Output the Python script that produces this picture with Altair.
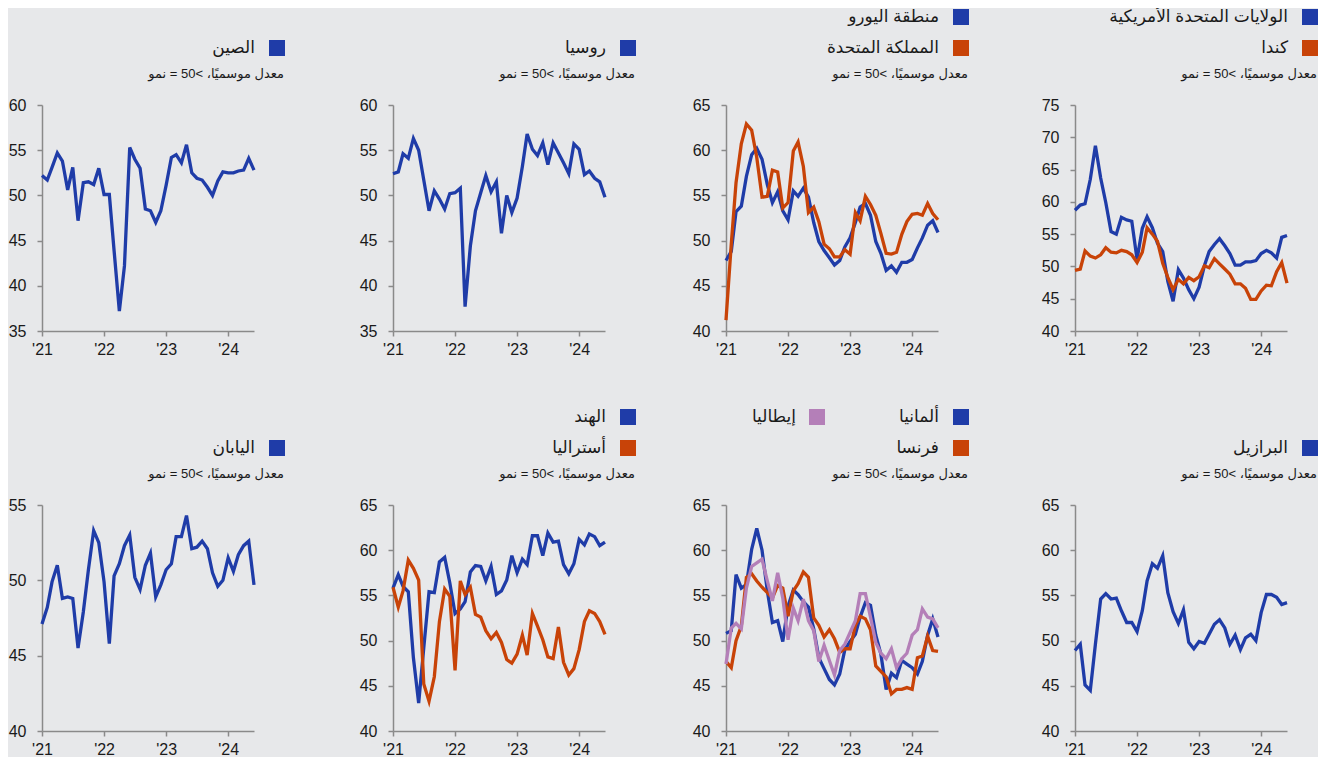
import altair as alt
import pandas as pd

# ---------------- data (monthly composite PMI, Jan 2021 - Jun 2024) ----------------
dates = pd.date_range("2021-01-01", "2024-06-01", freq="MS")

china = [52.2, 51.7, 53.1, 54.7, 53.8, 50.6, 53.1, 47.2, 51.4, 51.5, 51.2, 53.0,
         50.1, 50.1, 43.9, 37.2, 42.2, 55.3, 54.0, 53.0, 48.5, 48.3, 47.0, 48.3,
         51.1, 54.2, 54.5, 53.6, 55.6, 52.5, 51.9, 51.7, 50.9, 50.0, 51.6, 52.6,
         52.5, 52.5, 52.7, 52.8, 54.1, 52.8]
russia = [52.4, 52.6, 54.6, 54.1, 56.3, 55.0, 51.7, 48.3, 50.5, 49.6, 48.5, 50.2,
          50.3, 50.8, 37.7, 44.4, 48.3, 50.3, 52.2, 50.4, 51.5, 45.8, 50.0, 48.1,
          49.7, 53.2, 56.8, 55.1, 54.4, 55.8, 53.4, 55.8, 54.7, 53.6, 52.4, 55.7,
          55.1, 52.3, 52.7, 51.9, 51.5, 49.8]
eurozone = [47.8, 48.8, 53.2, 53.8, 57.1, 59.5, 60.2, 59.0, 56.2, 54.2, 55.4, 53.3,
            52.3, 55.5, 54.9, 55.8, 54.8, 52.0, 49.9, 48.9, 48.1, 47.3, 47.8, 49.3,
            50.3, 52.0, 53.7, 54.1, 52.8, 49.9, 48.6, 46.7, 47.2, 46.5, 47.6, 47.6,
            47.9, 49.2, 50.3, 51.7, 52.2, 50.9]
uk = [41.2, 49.6, 56.4, 60.7, 62.9, 62.2, 59.2, 54.8, 54.9, 57.8, 57.6, 53.6,
      54.2, 59.9, 60.9, 58.2, 53.1, 53.7, 52.1, 49.6, 49.1, 48.2, 48.2, 49.0,
      48.5, 53.1, 52.2, 54.9, 54.0, 52.8, 50.8, 48.6, 48.5, 48.7, 50.7, 52.1,
      52.9, 53.0, 52.8, 54.1, 53.0, 52.3]
usa = [58.7, 59.5, 59.7, 63.5, 68.7, 63.7, 59.9, 55.4, 55.0, 57.6, 57.2, 57.0,
       51.1, 55.9, 57.7, 56.0, 53.6, 52.3, 47.7, 44.6, 49.5, 48.2, 46.4, 45.0,
       46.8, 50.1, 52.3, 53.4, 54.3, 53.2, 52.0, 50.2, 50.2, 50.7, 50.7, 50.9,
       52.0, 52.5, 52.1, 51.3, 54.5, 54.8]
canada = [49.4, 49.6, 52.4, 51.6, 51.3, 51.8, 52.9, 52.2, 52.1, 52.5, 52.3, 51.8,
          50.6, 52.2, 56.0, 55.0, 53.9, 50.5, 48.3, 46.4, 48.0, 47.3, 48.3, 47.8,
          48.4, 50.1, 49.8, 51.2, 50.4, 49.6, 48.8, 47.3, 47.3, 46.6, 44.9, 44.9,
          46.2, 47.1, 47.0, 49.2, 50.6, 47.4]
japan = [47.1, 48.2, 49.9, 51.0, 48.8, 48.9, 48.8, 45.5, 47.9, 50.7, 53.3, 52.5,
         49.9, 45.8, 50.3, 51.1, 52.3, 53.0, 50.2, 49.4, 51.0, 51.8, 48.9, 49.7,
         50.7, 51.1, 52.9, 52.9, 54.3, 52.1, 52.2, 52.6, 52.1, 50.5, 49.6, 50.0,
         51.5, 50.6, 51.7, 52.3, 52.6, 49.7]
india = [55.8, 57.3, 56.0, 55.4, 48.1, 43.1, 49.2, 55.4, 55.3, 58.7, 59.2, 56.4,
         53.0, 53.5, 54.3, 57.6, 58.3, 58.2, 56.6, 58.2, 55.1, 55.5, 56.7, 59.4,
         57.5, 59.0, 58.4, 61.6, 61.6, 59.4, 61.9, 60.9, 61.0, 58.4, 57.4, 58.5,
         61.2, 60.6, 61.8, 61.5, 60.5, 60.9]
australia = [55.9, 53.7, 55.5, 58.9, 58.0, 56.7, 45.2, 43.3, 46.0, 52.1, 55.7, 54.9,
             46.7, 56.6, 55.1, 55.9, 52.9, 52.6, 51.1, 50.2, 50.9, 49.8, 47.9, 47.5,
             48.5, 50.6, 48.4, 53.0, 51.6, 50.1, 48.2, 48.0, 51.5, 47.6, 46.2, 46.9,
             49.0, 52.1, 53.3, 53.0, 52.1, 50.7]
germany = [50.8, 51.1, 57.3, 55.8, 56.2, 60.1, 62.4, 60.0, 55.5, 52.0, 52.2, 49.9,
           53.8, 55.6, 55.1, 54.3, 53.7, 51.3, 48.1, 46.9, 45.7, 45.1, 46.3, 49.0,
           49.9, 50.7, 52.6, 54.2, 53.9, 50.6, 48.5, 44.6, 46.4, 45.9, 47.8, 47.4,
           47.0, 46.3, 47.7, 50.6, 52.4, 50.4]
france = [47.7, 47.0, 50.0, 51.6, 57.0, 57.4, 56.6, 55.9, 55.3, 54.7, 56.1, 55.8,
          52.7, 55.5, 56.3, 57.6, 57.0, 52.5, 51.7, 50.4, 51.2, 50.2, 48.7, 49.1,
          49.1, 51.7, 52.7, 52.4, 51.2, 47.2, 46.6, 46.0, 44.1, 44.6, 44.6, 44.8,
          44.6, 48.1, 48.3, 50.5, 48.9, 48.8]
italy = [47.4, 51.4, 51.9, 51.3, 55.8, 58.2, 58.6, 59.0, 56.6, 54.4, 57.5, 54.7,
         50.1, 53.6, 52.2, 54.6, 52.2, 51.1, 47.7, 49.5, 47.8, 46.2, 48.9, 49.6,
         50.9, 52.2, 55.2, 55.2, 52.6, 49.8, 48.6, 48.0, 49.1, 47.0, 48.0, 48.6,
         50.6, 51.2, 53.5, 52.6, 52.4, 51.4]
brazil = [48.9, 49.6, 45.1, 44.5, 49.6, 54.6, 55.2, 54.6, 54.7, 53.3, 52.0, 52.0,
          51.0, 53.3, 56.6, 58.5, 58.0, 59.4, 55.3, 53.2, 51.9, 53.4, 49.8, 49.1,
          49.9, 49.7, 50.7, 51.8, 52.3, 51.4, 49.6, 50.6, 49.0, 50.3, 50.7, 50.0,
          53.1, 55.1, 55.1, 54.8, 54.0, 54.2]

subtitle = "معدل موسميًا، >50 = نمو"

# ---------------- styling ----------------
BG = "#e7e8ea"
BLUE = "#1f3ca8"
ORANGE = "#c84308"
PURPLE = "#b47fb8"
AXIS = "#8a8a8a"
TXT = "#1a1a1a"
FONT = "Liberation Sans, Arial, DejaVu Sans, sans-serif"
W, H = 212, 226

x_start = alt.DateTime(year=2021, month=1, date=1)
x_end = alt.DateTime(year=2024, month=6, date=1)


def panel(series, ymin, ymax, legend, extra=0):
    layers = []
    for name, vals, color in series:
        df = pd.DataFrame({"date": dates, "value": vals, "name": name})
        layers.append(
            alt.Chart(df).mark_line(color=color, strokeWidth=3.3).encode(
                x=alt.X("date:T", title=None,
                        scale=alt.Scale(domain=[x_start, x_end], range=[0, W]),
                        axis=alt.Axis(format="'%y",
                                      tickCount={"interval": "year", "step": 1},
                                      labelFlush=False)),
                y=alt.Y("value:Q", title=None,
                        scale=alt.Scale(domain=[ymin, ymax], nice=False, zero=False),
                        axis=alt.Axis(values=list(range(ymin, ymax + 1, 5)))),
            )
        )
    for name, color, row, col in legend:
        yy = -88 if row == 0 else -57
        xs = W + 23 if col == 0 else W - 121
        xt = W + 1 if col == 0 else W - 142
        ldf = pd.DataFrame({"label": [name]})
        layers.append(
            alt.Chart(ldf).mark_point(shape="square", filled=True, size=256,
                                      opacity=1, color=color).encode(
                x=alt.value(xs), y=alt.value(yy))
        )
        layers.append(
            alt.Chart(ldf).mark_text(align="right", baseline="middle", fontSize=17,
                                     font=FONT, color=TXT).encode(
                x=alt.value(xt), y=alt.value(yy), text="label:N")
        )
    sdf = pd.DataFrame({"label": [subtitle]})
    layers.append(
        alt.Chart(sdf).mark_text(align="right", baseline="middle", fontSize=13,
                                 font=FONT, color=TXT).encode(
            x=alt.value(W + 30), y=alt.value(-31), text="label:N")
    )
    return alt.layer(*layers).properties(width=W + extra, height=H)


p_china = panel([("الصين", china, BLUE)], 35, 60, [("الصين", BLUE, 1, 0)], extra=18)
p_russia = panel([("روسيا", russia, BLUE)], 35, 60, [("روسيا", BLUE, 1, 0)])
p_euro = panel([("منطقة اليورو", eurozone, BLUE), ("المملكة المتحدة", uk, ORANGE)], 40, 65,
               [("منطقة اليورو", BLUE, 0, 0), ("المملكة المتحدة", ORANGE, 1, 0)], extra=16)
p_us = panel([("الولايات المتحدة الأمريكية", usa, BLUE), ("كندا", canada, ORANGE)], 40, 75,
             [("الولايات المتحدة الأمريكية", BLUE, 0, 0), ("كندا", ORANGE, 1, 0)])

p_japan = panel([("اليابان", japan, BLUE)], 40, 55, [("اليابان", BLUE, 1, 0)], extra=18)
p_india = panel([("الهند", india, BLUE), ("أستراليا", australia, ORANGE)], 40, 65,
                [("الهند", BLUE, 0, 0), ("أستراليا", ORANGE, 1, 0)])
p_germany = panel([("ألمانيا", germany, BLUE), ("فرنسا", france, ORANGE), ("إيطاليا", italy, PURPLE)],
                  40, 65,
                  [("ألمانيا", BLUE, 0, 0), ("إيطاليا", PURPLE, 0, 1), ("فرنسا", ORANGE, 1, 0)],
                  extra=16)
p_brazil = panel([("البرازيل", brazil, BLUE)], 40, 65, [("البرازيل", BLUE, 1, 0)])

chart = alt.concat(
    p_china, p_russia, p_euro, p_us,
    p_japan, p_india, p_germany, p_brazil,
    columns=4,
    spacing=alt.RowColnumber(row=174, column=121),
    bounds="flush",
    align="each",
).properties(
    padding=0, background=BG
).configure_view(
    stroke=None
).configure_axis(
    grid=False, domainColor=AXIS, tickColor=AXIS, domainWidth=1.5, tickWidth=1.5,
    tickSize=5, labelFont=FONT, labelFontSize=16, labelColor=TXT,
).configure_axisX(
    labelPadding=5
).configure_axisY(
    labelPadding=11
)

chart.save("out.html", embed_options={"renderer": "svg", "actions": False})
